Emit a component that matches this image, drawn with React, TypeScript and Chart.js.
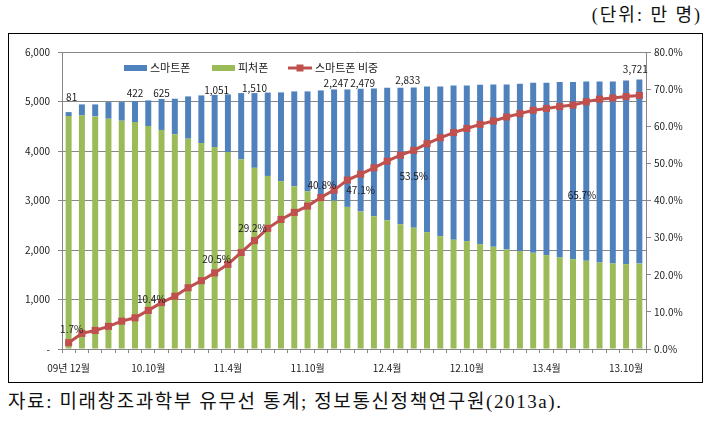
import React, { useEffect, useRef } from "react";
import { Chart, registerables } from "chart.js";

Chart.register(...registerables);

// ---------- data ----------
const categories = [
  "09년 12월", "10.5월", "10.6월", "10.7월", "10.8월", "10.9월", "10.10월", "10.11월", "10.12월",
  "11.1월", "11.2월", "11.3월", "11.4월", "11.5월", "11.6월", "11.7월", "11.8월", "11.9월", "11.10월",
  "11.11월", "11.12월", "12.1월", "12.2월", "12.3월", "12.4월", "12.5월", "12.6월", "12.7월", "12.8월",
  "12.9월", "12.10월", "12.11월", "12.12월", "13.1월", "13.2월", "13.3월", "13.4월", "13.5월", "13.6월",
  "13.7월", "13.8월", "13.9월", "13.10월", "13.11월",
];

const xTickLabels = ["09년 12월", "10.10월", "11.4월", "11.10월", "12.4월", "12.10월", "13.4월", "13.10월"];

// 스마트폰 (만 명)
const smartphone = [
  81, 221, 242, 336, 376, 422, 518, 625, 719, 854, 962, 1051, 1163, 1338, 1510,
  1684, 1796, 1916, 2017, 2152, 2247, 2373, 2479, 2581, 2676, 2757, 2833, 2945, 3026,
  3117, 3147, 3220, 3281, 3335, 3381, 3436, 3483, 3543, 3577, 3624, 3657, 3677, 3712, 3721,
];

// 피처폰 (만 명)
const featurephone = [
  4705, 4720, 4699, 4652, 4612, 4586, 4504, 4425, 4337, 4249, 4161, 4080, 3980, 3832, 3660,
  3496, 3388, 3288, 3187, 3072, 2997, 2871, 2778, 2683, 2602, 2521, 2452, 2360, 2279,
  2208, 2178, 2118, 2064, 2010, 1977, 1943, 1896, 1849, 1815, 1781, 1748, 1728, 1714, 1725,
];

// 스마트폰 비중 (%)
const smartShare = [
  1.7, 4.2, 5.0, 6.1, 7.5, 8.4, 10.4, 12.5, 14.2, 16.5, 18.4, 20.5, 22.8, 26.0, 29.2,
  32.5, 34.9, 36.8, 38.5, 40.8, 42.8, 45.5, 47.1, 48.8, 50.6, 52.2, 53.5, 55.3, 56.9,
  58.3, 59.4, 60.5, 61.4, 62.5, 63.4, 64.3, 64.8, 65.3, 65.7, 66.6, 67.3, 67.6, 68.0, 68.3,
];

const leftTicks = [0, 1000, 2000, 3000, 4000, 5000, 6000];
const rightTicks = [0, 10, 20, 30, 40, 50, 60, 70, 80];

const seriesNames = ["스마트폰", "피처폰", "스마트폰 비중"];

// indices that carry data labels
const barLabelIdx = [0, 5, 7, 11, 14, 20, 22, 26, 43];
const shareLabelIdx = [0, 6, 11, 14, 19, 22, 26, 38];

// ---------- styles ----------
const BLUE = "#4F81BD";
const GREEN = "#9BBB59";
const RED = "#C0504D";
const GRID = "#878787";
const TEXT = "#1a1a1a";
const FONT = '"Noto Sans CJK KR", "Noto Sans", sans-serif';

const barLabelOffsets: [number, number][] = [
  [3, -15], [0, -8], [0, -6], [2, -5], [0, -5], [2, -6], [2, -6], [-6, -7], [-4, -10],
];
const shareLabelOffsets: [number, number][] = [
  [3, -13], [3, -11], [2, -14], [-2, -12], [1, -12], [0, 16], [0, 26], [9, 90],
];

const labelPlugin = {
  id: "customLabelsAndLegend",
  afterDatasetsDraw(chart: any) {
    const ctx = chart.ctx as CanvasRenderingContext2D;
    const blueMeta = chart.getDatasetMeta(1);
    const lineMeta = chart.getDatasetMeta(2);
    ctx.save();
    ctx.font = `10px ${FONT}`;
    ctx.fillStyle = TEXT;
    ctx.textAlign = "center";
    ctx.textBaseline = "middle";
    barLabelIdx.forEach((i, k) => {
      const el = blueMeta.data[i];
      const [dx, dy] = barLabelOffsets[k];
      ctx.fillText(smartphone[i].toLocaleString("en-US"), el.x + dx, el.y + dy);
    });
    shareLabelIdx.forEach((i, k) => {
      const el = lineMeta.data[i];
      const [dx, dy] = shareLabelOffsets[k];
      ctx.fillText(smartShare[i].toFixed(1) + "%", el.x + dx, el.y + dy);
    });

    // legend inside plot area
    const { left, top } = chart.chartArea;
    const cy = top + 16;
    ctx.font = `11px ${FONT}`;
    ctx.textAlign = "left";
    ctx.fillStyle = BLUE;
    ctx.fillRect(left + 62, cy - 3, 23, 6);
    ctx.fillStyle = TEXT;
    ctx.fillText(seriesNames[0], left + 88, cy);
    ctx.fillStyle = GREEN;
    ctx.fillRect(left + 150, cy - 3, 23, 6);
    ctx.fillStyle = TEXT;
    ctx.fillText(seriesNames[1], left + 176, cy);
    ctx.strokeStyle = RED;
    ctx.lineWidth = 3;
    ctx.beginPath();
    ctx.moveTo(left + 226, cy);
    ctx.lineTo(left + 250, cy);
    ctx.stroke();
    ctx.fillStyle = RED;
    ctx.fillRect(left + 234.5, cy - 3.5, 7, 7);
    ctx.fillStyle = TEXT;
    ctx.fillText(seriesNames[2], left + 253, cy);
    ctx.restore();
  },
};

export default function App() {
  const canvasRef = useRef<HTMLCanvasElement | null>(null);

  useEffect(() => {
    if (!canvasRef.current) return;
    const chart = new Chart(canvasRef.current, {
      type: "bar",
      data: {
        labels: categories,
        datasets: [
          {
            type: "bar",
            label: seriesNames[1],
            data: featurephone,
            backgroundColor: GREEN,
            borderWidth: 0,
            barPercentage: 0.45,
            categoryPercentage: 1,
            yAxisID: "y",
            order: 1,
          },
          {
            type: "bar",
            label: seriesNames[0],
            data: smartphone,
            backgroundColor: BLUE,
            borderWidth: 0,
            barPercentage: 0.45,
            categoryPercentage: 1,
            yAxisID: "y",
            order: 1,
          },
          {
            type: "line",
            label: seriesNames[2],
            data: smartShare,
            borderColor: RED,
            backgroundColor: RED,
            borderWidth: 3,
            pointStyle: "rect",
            pointRadius: 5,
            pointBorderWidth: 0,
            tension: 0,
            yAxisID: "y1",
            order: 0,
          },
        ] as any,
      },
      options: {
        animation: false,
        responsive: true,
        maintainAspectRatio: false,
        layout: { padding: { top: 18, left: 0, right: 0, bottom: 0 } },
        plugins: {
          legend: { display: false },
          tooltip: { enabled: false },
        },
        scales: {
          x: {
            stacked: true,
            offset: true,
            grid: {
              offset: true,
              drawOnChartArea: false,
              drawTicks: true,
              tickLength: 4,
              color: GRID,
            },
            border: { color: GRID },
            ticks: {
              autoSkip: false,
              maxRotation: 0,
              minRotation: 0,
              padding: 9,
              color: TEXT,
              font: { family: FONT, size: 10 },
              callback: (_v: any, i: number) =>
                xTickLabels.includes(categories[i]) ? categories[i] : "",
            },
            afterFit: (s: any) => {
              s.height = 33;
            },
          },
          y: {
            stacked: true,
            position: "left",
            min: leftTicks[0],
            max: leftTicks[leftTicks.length - 1],
            afterBuildTicks: (s: any) => {
              s.ticks = leftTicks.map((v) => ({ value: v }));
            },
            grid: { color: GRID, tickLength: 4, lineWidth: 1 },
            border: { color: GRID },
            ticks: {
              padding: 8,
              color: TEXT,
              font: { family: FONT, size: 10 },
              callback: (v: any) => (Number(v) === 0 ? "-" : Number(v).toLocaleString("en-US")),
            },
            afterFit: (s: any) => {
              s.width = 53;
            },
          },
          y1: {
            position: "right",
            min: rightTicks[0],
            max: rightTicks[rightTicks.length - 1],
            afterBuildTicks: (s: any) => {
              s.ticks = rightTicks.map((v) => ({ value: v }));
            },
            grid: { drawOnChartArea: false, tickLength: 5, color: GRID },
            border: { color: GRID },
            ticks: {
              padding: 3,
              color: TEXT,
              font: { family: FONT, size: 10 },
              callback: (v: any) => Number(v).toFixed(1) + "%",
            },
            afterFit: (s: any) => {
              s.width = 56;
            },
          },
        },
      } as any,
      plugins: [labelPlugin],
    });
    return () => chart.destroy();
  }, []);

  return (
    <div style={{ position: "absolute", left: 0, top: 0, width: 706, height: 421, background: "#fff" }}>
      <div
        style={{
          position: "absolute",
          right: 4,
          top: 3,
          fontFamily: '"Liberation Serif", "Noto Sans CJK KR", serif',
          fontSize: 18,
          letterSpacing: 2,
          lineHeight: "24px",
          color: "#111",
          whiteSpace: "nowrap",
        }}
      >
        (단위: 만 명)
      </div>
      <div
        style={{
          position: "absolute",
          left: 8,
          top: 33,
          width: 695,
          height: 350,
          border: "1px solid #000",
          boxSizing: "border-box",
        }}
      >
        <div style={{ position: "relative", width: 693, height: 348 }}>
          <canvas ref={canvasRef} />
        </div>
      </div>
      <div
        style={{
          position: "absolute",
          left: 8,
          top: 389,
          fontFamily: '"Liberation Serif", "Noto Sans CJK KR", serif',
          fontSize: 19,
          letterSpacing: 1.6,
          lineHeight: "26px",
          color: "#111",
          whiteSpace: "nowrap",
        }}
      >
        자료: 미래창조과학부 유무선 통계; 정보통신정책연구원(2013a).
      </div>
    </div>
  );
}
